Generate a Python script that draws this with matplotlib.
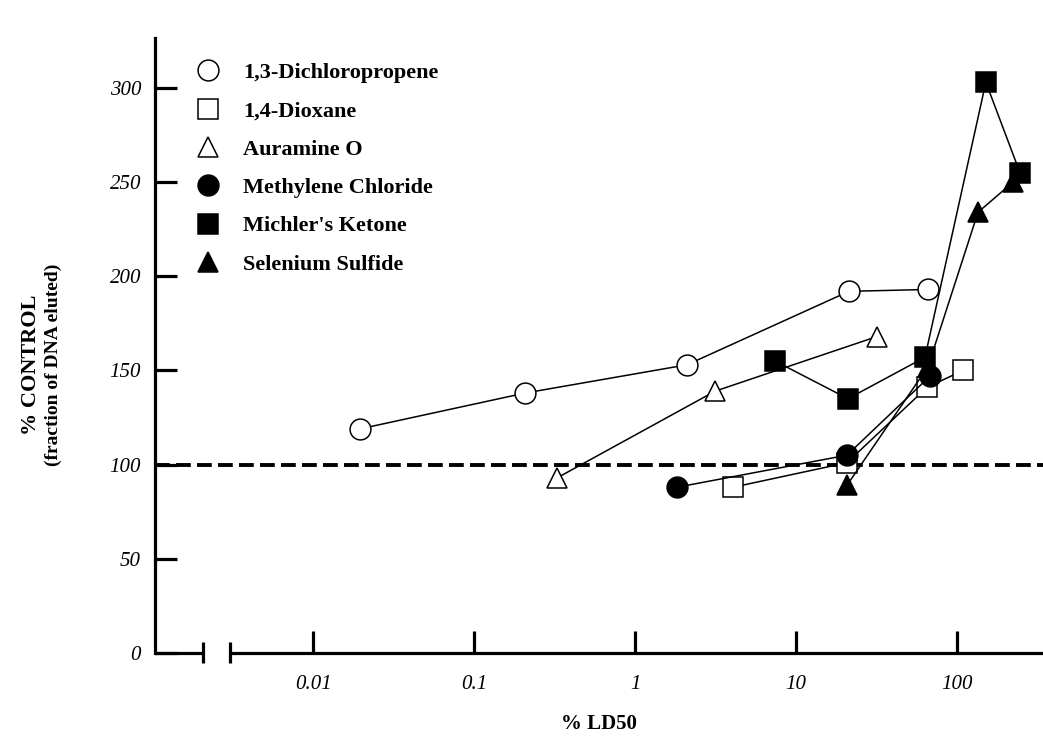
import matplotlib
matplotlib.use("Agg")
import matplotlib.pyplot as plt
from matplotlib.lines import Line2D

# dose as % of LD50, response as % of control
dcp_x = [0.0196, 0.207, 2.10, 21.3, 66]
dcp_y = [119, 138, 153, 192, 193]

diox_x = [4.06, 20.7, 65, 109]
diox_y = [88, 101, 141, 150]

aur_x = [0.328, 3.14, 31.8]
aur_y = [93, 139, 168]

mecl_x = [1.82, 20.7, 68]
mecl_y = [88, 105, 147]

mk_x = [7.4, 21.0, 63.2, 151, 246]
mk_y = [155, 135, 157, 303, 255]

ses_x = [20.7, 66, 135, 223]
ses_y = [89, 152, 234, 250]

names = ["1,3-Dichloropropene", "1,4-Dioxane", "Auramine O",
         "Methylene Chloride", "Michler's Ketone", "Selenium Sulfide"]
markers = ["o", "s", "^", "o", "s", "^"]
faces = ["white", "white", "white", "black", "black", "black"]

series = [(dcp_x, dcp_y), (diox_x, diox_y), (aur_x, aur_y),
          (mecl_x, mecl_y), (mk_x, mk_y), (ses_x, ses_y)]

yticks = [0, 50, 100, 150, 200, 250, 300]
xticks = [0.01, 0.1, 1, 10, 100]
xlabels = ["0.01", "0.1", "1", "10", "100"]

plt.rcParams["font.family"] = "Liberation Serif"

fig = plt.figure(figsize=(10.43, 7.38), dpi=100)
ax = fig.add_axes([0.1486, 0.1152, 0.8514, 0.8333])

xmin, xmax = 0.00104, 342
brk_lo, brk_hi = 0.00207, 0.00305

ax.axhline(100, color="black", lw=2.8, linestyle=(0, (3.8, 1.6)), zorder=1)

for (xs, ys), m, fc in zip(series, markers, faces):
    ax.plot(xs, ys, color="black", lw=1.1, marker=m, markersize=15,
            markerfacecolor=fc, markeredgecolor="black", markeredgewidth=1.1,
            zorder=3)

ax.set_xscale("log")
ax.set_xlim(xmin, xmax)
ax.set_ylim(0, 326.5)

ax.spines["top"].set_visible(False)
ax.spines["right"].set_visible(False)
ax.spines["bottom"].set_visible(False)
ax.spines["left"].set_linewidth(2.3)

# broken x axis drawn by hand
ax.plot([xmin, brk_lo], [0, 0], color="black", lw=2.3, clip_on=False,
        solid_capstyle="butt", zorder=5)
ax.plot([brk_hi, xmax], [0, 0], color="black", lw=2.3, clip_on=False,
        solid_capstyle="butt", zorder=5)
for bx in (brk_lo, brk_hi):
    ax.plot([bx, bx], [-5.5, 6], color="black", lw=2.3, clip_on=False,
            solid_capstyle="butt", zorder=5)

ax.set_xticks(xticks)
ax.set_xticklabels(xlabels)
ax.xaxis.set_minor_locator(matplotlib.ticker.NullLocator())
ax.set_yticks(yticks)
ax.tick_params(direction="in", length=16, width=2.3, labelsize=15, pad=10)
ax.tick_params(axis="x", pad=16)
for lab in ax.get_xticklabels() + ax.get_yticklabels():
    lab.set_style("italic")

ax.set_xlabel("% LD50", fontsize=15, fontweight="bold", labelpad=14)
fig.text(0.030, 0.505, "% CONTROL", rotation=90, ha="center", va="center",
         fontsize=16, fontweight="bold")
fig.text(0.051, 0.505, "(fraction of DNA eluted)", rotation=90, ha="center",
         va="center", fontsize=14, fontweight="bold")

handles = [Line2D([], [], linestyle="none", marker=m, markersize=15,
                  markerfacecolor=fc, markeredgecolor="black",
                  markeredgewidth=1.1)
           for m, fc in zip(markers, faces)]
ax.legend(handles, names, loc="upper left", bbox_to_anchor=(0.047, 0.96),
          frameon=False, borderpad=0, borderaxespad=0, handlelength=1.0,
          handletextpad=1.1, labelspacing=0.8,
          prop={"weight": "bold", "size": 16})

fig.savefig("out.png", dpi=100)
